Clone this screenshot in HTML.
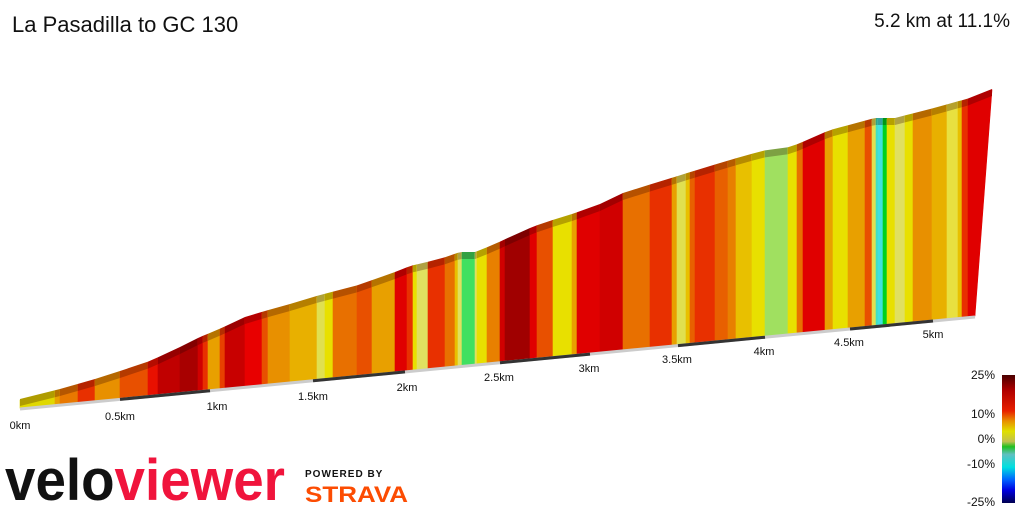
<!DOCTYPE html>
<html><head><meta charset="utf-8"><style>
html,body{margin:0;padding:0;background:#fff;width:1024px;height:512px;overflow:hidden;font-family:"Liberation Sans",sans-serif}
.t{position:absolute;font-size:22px;color:#111;top:12px}
</style></head><body>
<div class="t" style="left:12px">La Pasadilla to GC 130</div>
<div class="t" style="right:14px;font-size:19px;top:11px">5.2 km at 11.1%</div>
<svg id="s" width="1024" height="512" style="position:absolute;left:0;top:0" xmlns="http://www.w3.org/2000/svg">
<defs><linearGradient id="lg" x1="0" y1="0" x2="0" y2="1">
<stop offset="0" stop-color="#4a0000"/><stop offset="0.12" stop-color="#b00000"/><stop offset="0.28" stop-color="#e82000"/><stop offset="0.36" stop-color="#e89000"/><stop offset="0.44" stop-color="#e0e000"/><stop offset="0.52" stop-color="#c0c050"/><stop offset="0.56" stop-color="#20c020"/><stop offset="0.62" stop-color="#60c0c0"/><stop offset="0.72" stop-color="#00e0e0"/><stop offset="0.82" stop-color="#0060ff"/><stop offset="0.9" stop-color="#0000e0"/><stop offset="1" stop-color="#000050"/></linearGradient></defs>
<g id="g"></g>
<rect x="1002" y="375" width="13" height="128" fill="url(#lg)"/>
<g font-size="12" fill="#111" text-anchor="end">
<text x="995" y="379">25%</text><text x="995" y="418">10%</text><text x="995" y="443">0%</text><text x="995" y="468">-10%</text><text x="995" y="506">-25%</text></g>
<g font-size="11" fill="#111" text-anchor="middle">
<text x="20" y="429">0km</text><text x="120" y="420">0.5km</text><text x="217" y="410">1km</text><text x="313" y="400">1.5km</text><text x="407" y="391">2km</text><text x="499" y="381">2.5km</text><text x="589" y="372">3km</text><text x="677" y="363">3.5km</text><text x="764" y="355">4km</text><text x="849" y="346">4.5km</text><text x="933" y="338">5km</text></g>
<text x="5" y="500" font-size="58" font-weight="bold" textLength="280" lengthAdjust="spacingAndGlyphs"><tspan fill="#111">velo</tspan><tspan fill="#f0143c">viewer</tspan></text>
<text x="305" y="477" font-size="10" font-weight="bold" fill="#111" letter-spacing="1">POWERED BY</text>
<text x="305" y="502" font-size="22" font-weight="bold" fill="#fc4c02" textLength="103" lengthAdjust="spacingAndGlyphs">STRAVA</text>
</svg>
<script>
var P=[[20,400],[60,390],[95,380],[120,372],[150,362],[180,348],[200,338],[215,332],[245,318],[265,312],[290,305],[320,296],[355,287],[390,275],[410,267],[440,260],[460,253],[475,253],[495,245],[520,233],[540,225],[575,214],[600,205],[625,193],[665,181],[700,170],[740,158],[770,150],[790,148],[800,144],[830,131],[860,123],[875,119],[895,119],[930,110],[970,99],[992,90]];
function ytop(x){for(var i=1;i<P.length;i++){if(x<=P[i][0]){var a=P[i-1],b=P[i];return a[1]+(b[1]-a[1])*(x-a[0])/(b[0]-a[0]);}}return 90;}
function ybase(x){return 408-(x-20)*92/955;}
var S=[[20,"#e0d800"],[55,"#e8a000"],[60,"#e87800"],[78,"#e83000"],[95,"#e89000"],[120,"#e85000"],[148,"#e81000"],[158,"#c00000"],[180,"#a80000"],[198,"#d00000"],[203,"#e83000"],[208,"#e8a000"],[220,"#e84000"],[225,"#c80000"],[245,"#e80000"],[262,"#e85000"],[268,"#e89000"],[290,"#e8b000"],[317,"#e0e050"],[325,"#e8e000"],[333,"#e87000"],[357,"#e85000"],[372,"#e8a000"],[395,"#e00000"],[407,"#e83000"],[413,"#e8e000"],[417,"#e0e060"],[428,"#e83000"],[445,"#e87000"],[455,"#e8c000"],[458,"#e0e060"],[462,"#40e060"],[475,"#e0e060"],[477,"#e8e000"],[487,"#e88000"],[500,"#d00000"],[505,"#a00000"],[530,"#e00000"],[537,"#e85000"],[553,"#e8e000"],[572,"#e8a000"],[577,"#e00000"],[600,"#d00000"],[623,"#e87000"],[650,"#e83000"],[672,"#e8a000"],[677,"#e0e050"],[686,"#e8c000"],[690,"#e86000"],[695,"#e83000"],[715,"#e86000"],[728,"#e88000"],[736,"#e8c000"],[752,"#e8e000"],[765,"#a0e060"],[788,"#e8e000"],[797,"#e87000"],[803,"#e00000"],[825,"#e8a000"],[833,"#e8e000"],[848,"#e8a000"],[865,"#e85000"],[872,"#e0e050"],[876,"#40e0c0"],[878,"#40e0e0"],[883,"#00d020"],[887,"#e8e000"],[895,"#e0e060"],[905,"#e8e000"],[913,"#e89000"],[932,"#e8b000"],[947,"#e8e040"],[958,"#e8c000"],[962,"#e83000"],[968,"#e00000"],[975,"#e00000"]];
function dk(c){var n=parseInt(c.slice(1),16),r=n>>16,g=(n>>8)&255,b=n&255;return "rgb("+Math.round(r*.78)+","+Math.round(g*.72)+","+Math.round(b*.7)+")";}
var NS="http://www.w3.org/2000/svg",G=document.getElementById("g");
function poly(pts,fill,stroke){var e=document.createElementNS(NS,"polygon");e.setAttribute("points",pts);e.setAttribute("fill",fill);if(stroke){e.setAttribute("stroke",stroke);e.setAttribute("stroke-width","0.6");}G.appendChild(e);}
function line(x1,y1,x2,y2,c){var e=document.createElementNS(NS,"line");e.setAttribute("x1",x1);e.setAttribute("y1",y1);e.setAttribute("x2",x2);e.setAttribute("y2",y2);e.setAttribute("stroke",c);e.setAttribute("stroke-width","3");G.appendChild(e);}
for(var i=0;i<S.length-1;i++){var x0=S[i][0],x1=S[i+1][0],c=S[i][1];
 var sx1=(i==S.length-2)?992:x1;
 poly(x0+","+ytop(x0)+" "+sx1+","+ytop(sx1)+" "+x1+","+ybase(x1)+" "+x0+","+ybase(x0),c,c);
 poly(x0+","+(ytop(x0)-1)+" "+sx1+","+(ytop(sx1)-1)+" "+sx1+","+(ytop(sx1)+6)+" "+x0+","+(ytop(x0)+6),dk(c));
}
line(20,409,975,317,"#ccc");
[[120,210],[313,405],[500,590],[678,765],[850,933]].forEach(function(d){line(d[0],ybase(d[0])+1,d[1],ybase(d[1])+1,"#333");});
</script>
</body></html>
